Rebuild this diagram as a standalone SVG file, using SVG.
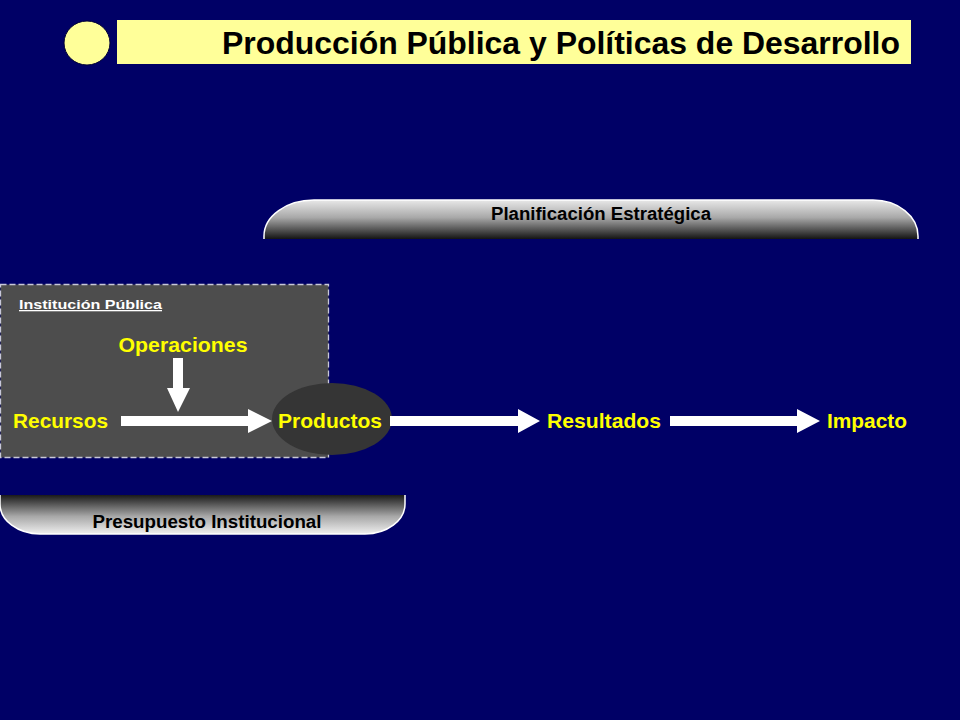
<svg xmlns="http://www.w3.org/2000/svg" width="960" height="720" viewBox="0 0 960 720">
<style>
.lbl{font-family:"Liberation Sans",Arial,sans-serif;font-weight:bold;font-size:21px;fill:#ffff00}
.band{font-family:"Liberation Sans",Arial,sans-serif;font-weight:bold;font-size:18px;fill:#000000}
.arrow{fill:#ffffff}
</style>
<defs>
<linearGradient id="gDown" x1="0" y1="0" x2="0" y2="1">
<stop offset="0" stop-color="#e8e8e8"/>
<stop offset="0.45" stop-color="#a8a8a8"/>
<stop offset="1" stop-color="#141414"/>
</linearGradient>
<linearGradient id="gUp" x1="0" y1="0" x2="0" y2="1">
<stop offset="0" stop-color="#1a1a1a"/>
<stop offset="0.55" stop-color="#a8a8a8"/>
<stop offset="1" stop-color="#efefef"/>
</linearGradient>
</defs>
<rect x="0" y="0" width="960" height="720" fill="#000066"/>

<g id="title">
<ellipse cx="87" cy="43" rx="23" ry="22" fill="#ffff99" stroke="#000033" stroke-width="1"/>
<rect x="117" y="20" width="794" height="44" fill="#ffff99"/>
<text x="900" y="54" text-anchor="end" font-family="'Liberation Sans',Arial,sans-serif" font-weight="bold" font-size="31" fill="#000000" textLength="678" lengthAdjust="spacingAndGlyphs">Producción Pública y Políticas de Desarrollo</text>
</g>

<g id="planificacion">
<path d="M264,239 L264,236 A50,36 0 0 1 314,200 L873,200 A45,36 0 0 1 918,236 L918,239 Z" fill="url(#gDown)"/>
<path d="M264,239 L264,236 A50,36 0 0 1 314,200 L873,200 A45,36 0 0 1 918,236 L918,239" fill="none" stroke="#ffffff" stroke-width="1.5"/>
<text class="band" x="601" y="220" text-anchor="middle" textLength="220" lengthAdjust="spacingAndGlyphs">Planificación Estratégica</text>
</g>

<g id="institucion">
<rect x="0.5" y="284.5" width="328" height="173" fill="#4d4d4d" stroke="#c8c8d8" stroke-width="1.3" stroke-dasharray="6,3"/>
<text x="19" y="309" font-family="'Liberation Sans',Arial,sans-serif" font-weight="bold" font-size="13" fill="#ffffff" text-decoration="underline" textLength="143" lengthAdjust="spacingAndGlyphs">Institución  Pública</text>
</g>

<g id="presupuesto">
<path d="M0,495 L0,504 A40,30 0 0 0 40,534 L365,534 A40,30 0 0 0 405,504 L405,495 Z" fill="url(#gUp)"/>
<path d="M0,495 L0,504 A40,30 0 0 0 40,534 L365,534 A40,30 0 0 0 405,504 L405,495" fill="none" stroke="#ffffff" stroke-width="1.5"/>
<text class="band" x="207" y="528" text-anchor="middle" textLength="229" lengthAdjust="spacingAndGlyphs">Presupuesto Institucional</text>
</g>

<g id="operaciones">
<text class="lbl" x="183" y="352" text-anchor="middle" textLength="129" lengthAdjust="spacingAndGlyphs">Operaciones</text>
</g>

<g id="recursos">
<text class="lbl" x="13" y="428" textLength="95" lengthAdjust="spacingAndGlyphs">Recursos</text>
</g>

<g id="productos">
<ellipse cx="332" cy="419" rx="60" ry="36" fill="#353535"/>
<text class="lbl" x="330" y="428" text-anchor="middle" textLength="104" lengthAdjust="spacingAndGlyphs">Productos</text>
</g>

<g id="resultados">
<text class="lbl" x="604" y="428" text-anchor="middle" textLength="114" lengthAdjust="spacingAndGlyphs">Resultados</text>
</g>

<g id="impacto">
<text class="lbl" x="867" y="428" text-anchor="middle" textLength="80" lengthAdjust="spacingAndGlyphs">Impacto</text>
</g>

<g id="connectors">
<polygon class="arrow" points="173,358 183,358 183,388 190,388 178,412 167,388 173,388"/>
<polygon class="arrow" points="121,416 248,416 248,409 272,421 248,433 248,426 121,426"/>
<polygon class="arrow" points="390,416 518,416 518,409 540,421 518,433 518,426 390,426"/>
<polygon class="arrow" points="670,416 797,416 797,409 820,421 797,433 797,426 670,426"/>
</g>
</svg>
